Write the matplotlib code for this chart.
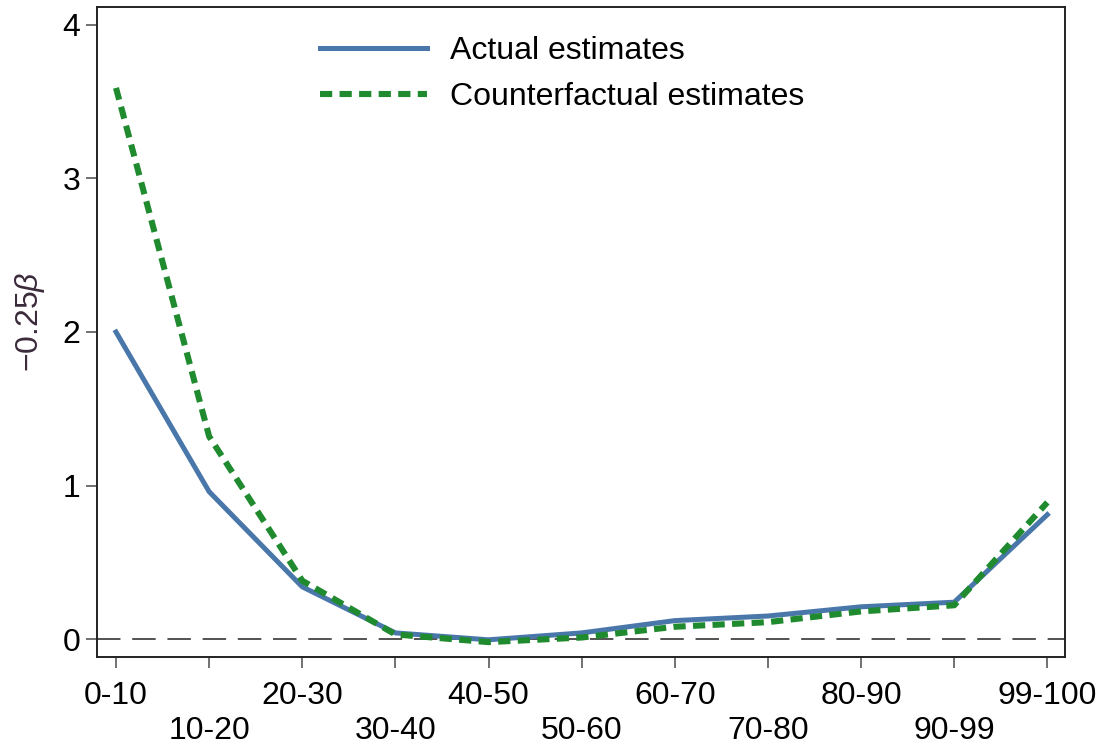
import numpy as np
import matplotlib
matplotlib.use('Agg')
import matplotlib.pyplot as plt

plt.rcParams['font.family'] = ['Liberation Sans', 'DejaVu Sans']
plt.rcParams['mathtext.fontset'] = 'custom'
plt.rcParams['mathtext.rm'] = 'Liberation Sans'
plt.rcParams['mathtext.it'] = 'Liberation Sans:italic'

# dados
grupos = ['0-10', '10-20', '20-30', '30-40', '40-50', '50-60',
          '60-70', '70-80', '80-90', '90-99', '99-100']
atual = [2.00, 0.96, 0.34, 0.04, -0.005, 0.04, 0.12, 0.15, 0.21, 0.24, 0.81]
contrafactual = [3.59, 1.32, 0.38, 0.03, -0.02, 0.01, 0.08, 0.11, 0.18, 0.22, 0.89]

cor_azul = '#4A77AA'
cor_verde = '#1F8A2E'

fig = plt.figure(figsize=(11.07, 7.5), dpi=100)
ax = fig.add_axes([97/1107, 1 - 657/750, (1065-97)/1107, (657-7)/750])

x = np.arange(len(grupos))
ax.axhline(0, color='#444444', lw=1.3, linestyle=(0, (13, 6.5)), zorder=1)
ax.plot(x, atual, color=cor_azul, lw=3.6, label='Actual estimates', zorder=3)
ax.plot(x, contrafactual, color=cor_verde, lw=4.4, linestyle=(0, (2.0, 1.2)),
        label='Counterfactual estimates', zorder=4)

ax.set_xlim(-0.204, 10.19)
ax.set_ylim(-0.117, 4.117)
ax.set_yticks([0, 1, 2, 3, 4])
ax.set_xticks(x)
ax.set_xticklabels([g if i % 2 == 0 else '\n' + g for i, g in enumerate(grupos)],
                   linespacing=1.25)

ax.tick_params(axis='both', labelsize=23, color='#666666', width=1.3, length=8)
ax.tick_params(axis='x', pad=9)
ax.tick_params(axis='y', pad=4)
for s in ax.spines.values():
    s.set_color('#222222')
    s.set_linewidth(1.4)

ax.set_ylabel(r'$-0.25\mathit{\beta}$', fontsize=23, color='#3a2a3a')
ax.yaxis.set_label_coords(-0.052, 0.515)

ax.legend(loc='upper left', bbox_to_anchor=(0.201, 1.0), frameon=False,
          fontsize=23, handlelength=3.35, handletextpad=0.7, labelspacing=0.5)

plt.savefig('out.png', dpi=100)
